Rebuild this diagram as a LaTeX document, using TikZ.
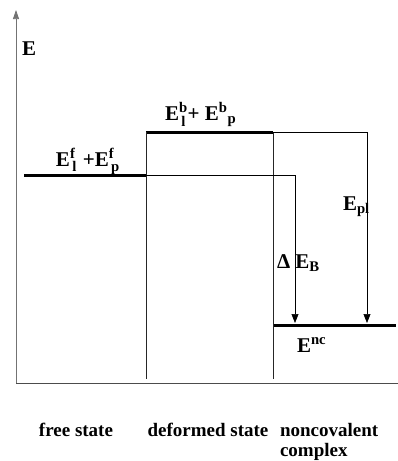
\documentclass[tikz,border=0pt]{standalone}
\usepackage{amsmath}
\usepackage{fontspec}
\setmainfont{Liberation Serif}
\usetikzlibrary{arrows.meta}
\begin{document}
\begin{tikzpicture}[x=1pt,y=-1pt]

\tikzstyle{lbl} = [inner sep=0pt, outer sep=0pt, anchor=base west, font=\fontsize{21}{22}\selectfont\bfseries];%
\tikzstyle{statename} = [inner sep=0pt, outer sep=0pt, anchor=base, font=\fontsize{19}{20}\selectfont\bfseries];%
\tikzstyle{level} = [-,line width=3pt,color=black];
\tikzstyle{wall} = [-,line width=0.8pt,color=black!85];
\tikzstyle{drop} = [-{Triangle[length=9pt,width=7pt]},line width=0.6pt,color=black];

\useasboundingbox (0,0) rectangle (398,461);

% axes
\coordinate (o) at (16,383);
\coordinate (ytop) at (16,10);
\coordinate (xend) at (398,383);
\path (o) edge[-{Triangle[length=9pt,width=6pt]},line width=0.7pt,color=black!55] (ytop);
\path (o) edge[-,line width=0.8pt,color=black!70] (xend);
\node[lbl] at (22,55) (e) {E};

% free state
\coordinate (f1) at (24,175);
\coordinate (f2) at (146,175);
\path (f1) edge[level] (f2);
\node[lbl] at (56,166) (lf) {E$^{\textbf{f}}_{\,\textbf{l}}$\;+E$^{\textbf{f}}_{\,\textbf{p}}$};

% deformed state
\coordinate (b1) at (146,132);
\coordinate (b2) at (273,132);
\path (b1) edge[level] (b2);
\node[lbl] at (165,120) (lb) {E$^{\textbf{b}}_{\,\textbf{l}}$+ E$^{\textbf{b}}{}_{\textbf{p}}$};

% noncovalent complex
\coordinate (n1) at (273,325);
\coordinate (n2) at (396,325);
\path (n1) edge[level] (n2);
\node[lbl] at (297,352) (lnc) {E$^{\textbf{nc}}$};

% walls
\coordinate (w1) at (146,379);
\coordinate (w2) at (273,379);
\path (b1) edge[wall] (w1);
\path (b2) edge[wall] (w2);

% energy drops
\coordinate (dB) at (295,323);
\coordinate (dP) at (367,323);
\draw[drop] (f2) -| (dB);
\draw[drop] (b2) -| (dP);
\node[lbl] at (277,268) (lB) {\textbf{Δ} E$_{\textbf{B}}$};
\node[lbl] at (343,210) (lP) {E$_{\textbf{pl}}$};

% state names
\node[statename] at (76,436) (s1) {free state};
\node[statename] at (208,436) (s2) {deformed state};
\node[statename,anchor=north west,align=left] at (280,423) (s3) {noncovalent\\complex};

\end{tikzpicture}
\end{document}
